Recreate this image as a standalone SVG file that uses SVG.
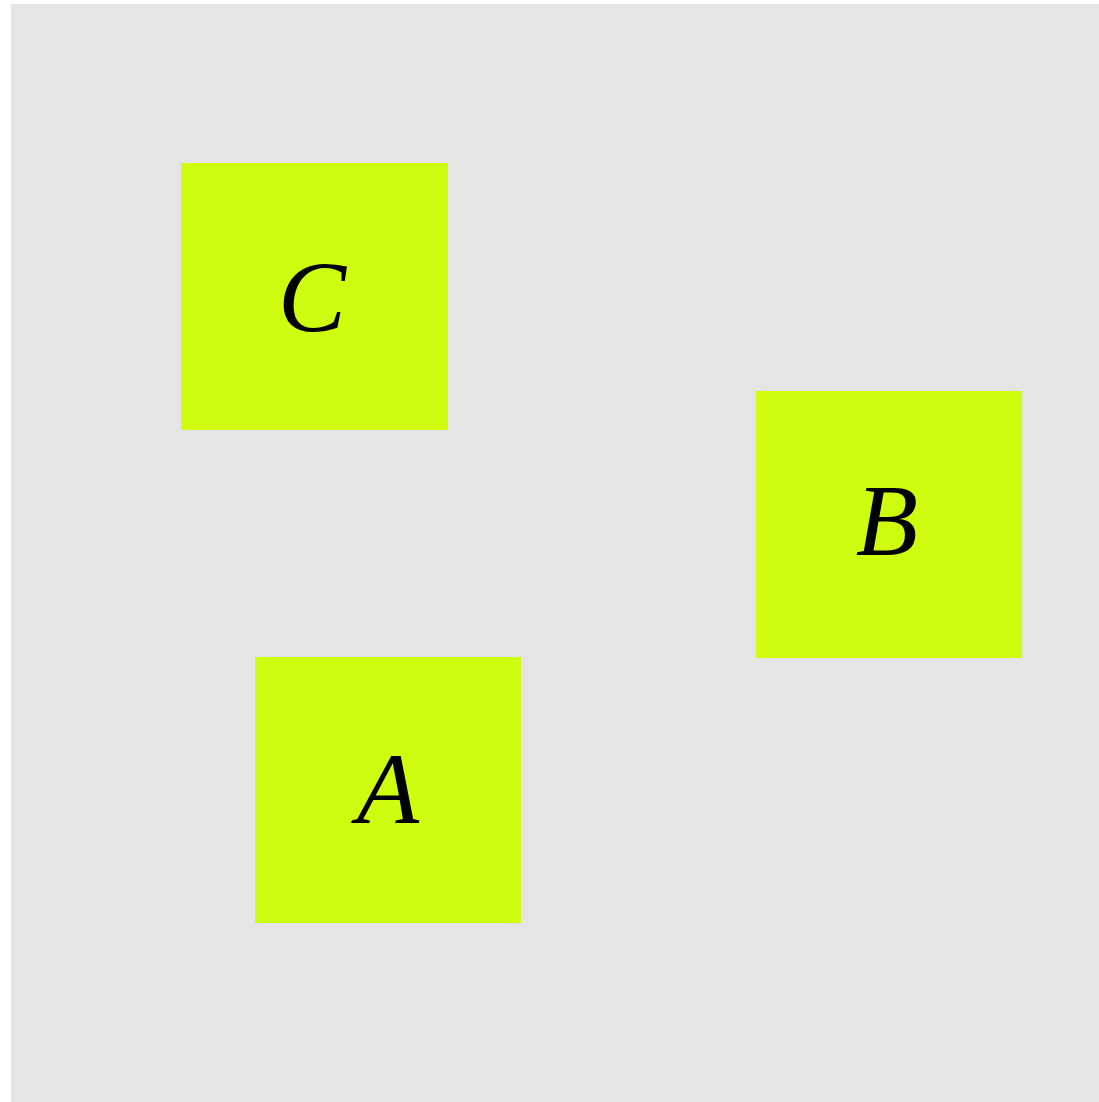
<svg xmlns="http://www.w3.org/2000/svg" width="1099" height="1102" viewBox="0 0 1099 1102">
<style>
.node rect{fill:#cffd0f;}
.node text{font-family:'Liberation Serif', 'Times New Roman', serif;font-style:italic;font-size:102px;fill:#000;text-anchor:middle;}
</style>
<rect x="0" y="0" width="1099" height="1102" fill="#ffffff"/>
<rect x="11" y="4" width="1088" height="1098" fill="#e5e5e5"/>
<g id="connectors"></g>
<g id="node-C" class="node"><rect x="181" y="163" width="267" height="267"/><text x="312" y="332">C</text></g>
<g id="node-B" class="node"><rect x="756" y="391" width="266" height="267"/><text x="887" y="555">B</text></g>
<g id="node-A" class="node"><rect x="255" y="657" width="266" height="266"/><text x="388" y="823">A</text></g>
</svg>
